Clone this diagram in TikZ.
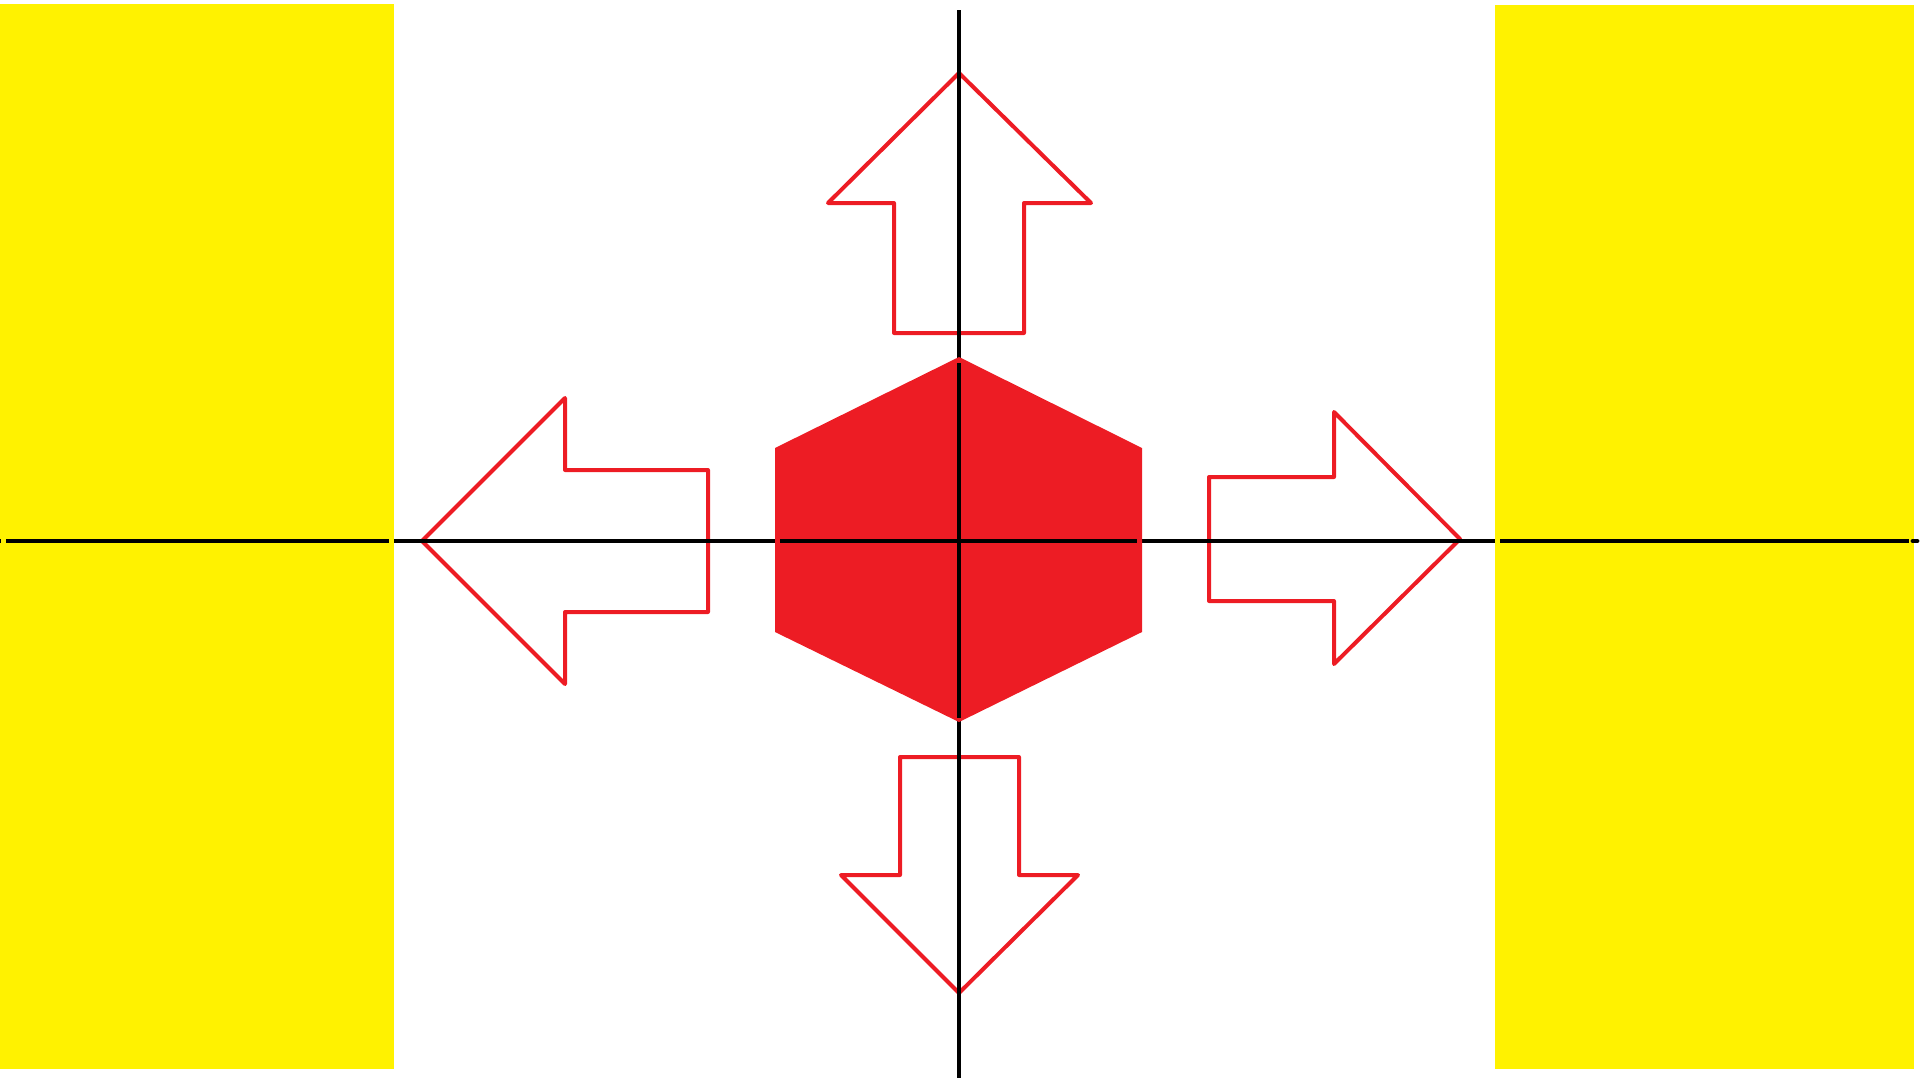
\documentclass[tikz,border=0pt]{standalone}
\definecolor{pyellow}{HTML}{FFF200}
\definecolor{pred}{HTML}{ED1C24}
\begin{document}
\begin{tikzpicture}[x=1pt,y=-1pt,
  axis/.style={black,line width=4.8pt},
  arrowshape/.style={draw=pred,line width=4pt,line join=round},
  band/.style={fill=pyellow,draw=none}]
\useasboundingbox (0,0) rectangle (1920,1080);
% yellow bands
\fill[band] (0,4) rectangle (394,1069);
\fill[band] (1495,5) rectangle (1914,1069);
% red arrows (outlines)
\draw[arrowshape] (959,73) -- (1091,203) -- (1024,203) -- (1024,333) -- (894,333) -- (894,203) -- (828,203) -- cycle;
\draw[arrowshape] (959,993) -- (1078,875) -- (1019,875) -- (1019,757) -- (900,757) -- (900,875) -- (841,875) -- cycle;
\draw[arrowshape] (422,541) -- (565,398) -- (565,470) -- (708,470) -- (708,612) -- (565,612) -- (565,684) -- cycle;
\draw[arrowshape] (1460,539) -- (1334,412) -- (1334,477) -- (1209,477) -- (1209,601) -- (1334,601) -- (1334,664) -- cycle;
% axes
\draw[axis] (0,541) -- (1,541);
\draw[axis] (6,541) -- (389,541);
\draw[axis] (394,541) -- (1495,541);
\draw[axis] (1500,541) -- (1909,541);
\draw[axis,line cap=round] (1913,541) -- (1917,541);
\draw[axis] (959,10) -- (959,1078);
% hexagon
\fill[pred] (959,357) -- (1142,448) -- (1142,632) -- (959,722) -- (775,632) -- (775,448) -- cycle;
\draw[axis] (780,541) -- (1137,541);
\draw[axis] (959,363) -- (959,718);
\end{tikzpicture}
\end{document}
